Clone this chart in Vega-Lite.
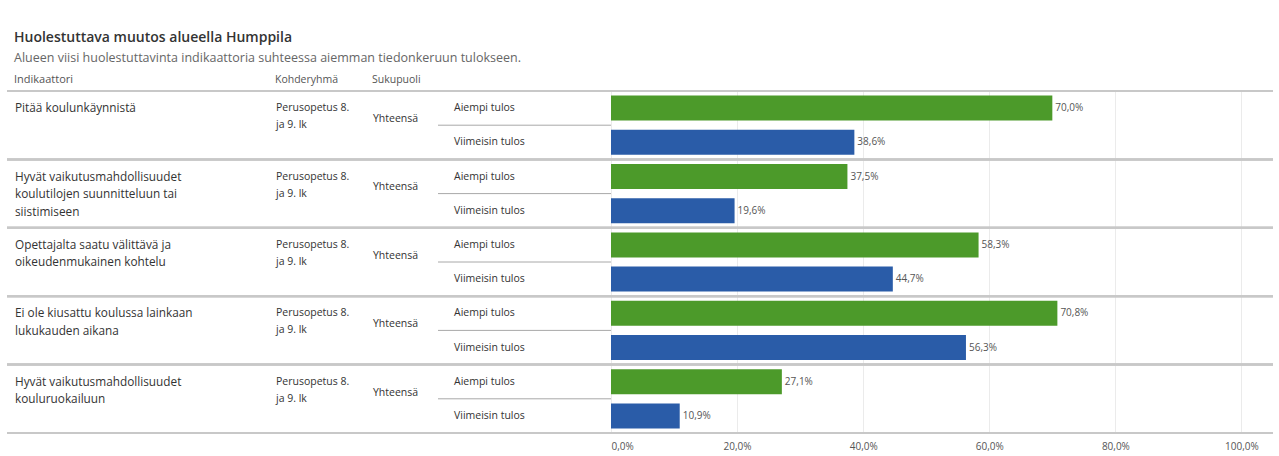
{
  "$schema": "https://vega.github.io/schema/vega-lite/v6.json",
  "padding": {"left": 6, "top": 30, "right": 7, "bottom": 0},
  "background": "white",
  "title": {
    "text": "Huolestuttava muutos alueella Humppila",
    "subtitle": "Alueen viisi huolestuttavinta indikaattoria suhteessa aiemman tiedonkeruun tulokseen.",
    "anchor": "start",
    "dx": 8,
    "font": "Open Sans",
    "fontSize": 14,
    "fontWeight": 600,
    "color": "#333333",
    "subtitleFont": "Open Sans",
    "subtitleFontSize": 12.5,
    "subtitleColor": "#666666",
    "subtitlePadding": 7,
    "offset": 10
  },
  "data": {
    "values": [
      {"n": 1, "ind": "Pitää koulunkäynnistä", "kohde": "Perusopetus 8.\nja 9. lk", "sp": "Yhteensä", "tulos": "Aiempi tulos", "value": 0.700},
      {"n": 1, "ind": "Pitää koulunkäynnistä", "kohde": "Perusopetus 8.\nja 9. lk", "sp": "Yhteensä", "tulos": "Viimeisin tulos", "value": 0.386},
      {"n": 2, "ind": "Hyvät vaikutusmahdollisuudet\nkoulutilojen suunnitteluun tai\nsiistimiseen", "kohde": "Perusopetus 8.\nja 9. lk", "sp": "Yhteensä", "tulos": "Aiempi tulos", "value": 0.375},
      {"n": 2, "ind": "Hyvät vaikutusmahdollisuudet\nkoulutilojen suunnitteluun tai\nsiistimiseen", "kohde": "Perusopetus 8.\nja 9. lk", "sp": "Yhteensä", "tulos": "Viimeisin tulos", "value": 0.196},
      {"n": 3, "ind": "Opettajalta saatu välittävä ja\noikeudenmukainen kohtelu", "kohde": "Perusopetus 8.\nja 9. lk", "sp": "Yhteensä", "tulos": "Aiempi tulos", "value": 0.583},
      {"n": 3, "ind": "Opettajalta saatu välittävä ja\noikeudenmukainen kohtelu", "kohde": "Perusopetus 8.\nja 9. lk", "sp": "Yhteensä", "tulos": "Viimeisin tulos", "value": 0.447},
      {"n": 4, "ind": "Ei ole kiusattu koulussa lainkaan\nlukukauden aikana", "kohde": "Perusopetus 8.\nja 9. lk", "sp": "Yhteensä", "tulos": "Aiempi tulos", "value": 0.708},
      {"n": 4, "ind": "Ei ole kiusattu koulussa lainkaan\nlukukauden aikana", "kohde": "Perusopetus 8.\nja 9. lk", "sp": "Yhteensä", "tulos": "Viimeisin tulos", "value": 0.563},
      {"n": 5, "ind": "Hyvät vaikutusmahdollisuudet\nkouluruokailuun", "kohde": "Perusopetus 8.\nja 9. lk", "sp": "Yhteensä", "tulos": "Aiempi tulos", "value": 0.271},
      {"n": 5, "ind": "Hyvät vaikutusmahdollisuudet\nkouluruokailuun", "kohde": "Perusopetus 8.\nja 9. lk", "sp": "Yhteensä", "tulos": "Viimeisin tulos", "value": 0.109}
    ]
  },
  "spacing": 0,
  "bounds": "flush",
  "config": {
    "locale": {"number": {"decimal": ",", "thousands": "\u00a0", "grouping": [3], "currency": ["", "\u00a0€"]}},
    "view": {"stroke": null},
    "font": "Open Sans"
  },
  "hconcat": [
    {
      "width": 262,
      "height": 342,
      "title": {"text": "Indikaattori", "anchor": "start", "dx": 8, "fontSize": 11, "fontWeight": "normal", "color": "#555555", "offset": 5},
      "layer": [
        {"mark": {"type": "rule", "color": "#c8c8c8", "strokeWidth": 2},
         "encoding": {"y": {"field": "n", "type": "ordinal", "bandPosition": 0, "axis": null, "scale": {"type": "band", "paddingInner": 0, "paddingOuter": 0}}}},
        {"mark": {"type": "rule", "color": "#c8c8c8", "strokeWidth": 2},
         "encoding": {"y": {"field": "n", "type": "ordinal", "bandPosition": 1, "axis": null, "scale": {"type": "band", "paddingInner": 0, "paddingOuter": 0}}}},
        {"transform": [{"filter": "datum.tulos === 'Aiempi tulos'"}],
         "mark": {"type": "text", "align": "left", "baseline": "middle", "dx": 8, "lineBreak": "\n", "lineHeight": 17.5, "fontSize": 11.8, "color": "#333333"},
         "encoding": {
           "x": {"value": 0},
           "y": {"field": "n", "type": "ordinal", "bandPosition": 0.25, "axis": null, "scale": {"type": "band", "paddingInner": 0, "paddingOuter": 0}},
           "text": {"field": "ind"}
         }}
      ]
    },
    {
      "width": 98,
      "height": 342,
      "title": {"text": "Kohderyhmä", "anchor": "start", "dx": 7, "fontSize": 10.5, "fontWeight": "normal", "color": "#555555", "offset": 5},
      "layer": [
        {"mark": {"type": "rule", "color": "#c8c8c8", "strokeWidth": 2},
         "encoding": {"y": {"field": "n", "type": "ordinal", "bandPosition": 0, "axis": null, "scale": {"type": "band", "paddingInner": 0, "paddingOuter": 0}}}},
        {"mark": {"type": "rule", "color": "#c8c8c8", "strokeWidth": 2},
         "encoding": {"y": {"field": "n", "type": "ordinal", "bandPosition": 1, "axis": null, "scale": {"type": "band", "paddingInner": 0, "paddingOuter": 0}}}},
        {"transform": [{"filter": "datum.tulos === 'Aiempi tulos'"}],
         "mark": {"type": "text", "align": "left", "baseline": "middle", "dx": 7, "lineBreak": "\n", "lineHeight": 17, "fontSize": 10.5, "color": "#333333"},
         "encoding": {
           "x": {"value": 0},
           "y": {"field": "n", "type": "ordinal", "bandPosition": 0.25, "axis": null, "scale": {"type": "band", "paddingInner": 0, "paddingOuter": 0}},
           "text": {"field": "kohde"}
         }}
      ]
    },
    {
      "width": 71,
      "height": 342,
      "title": {"text": "Sukupuoli", "anchor": "start", "dx": 6, "fontSize": 10.5, "fontWeight": "normal", "color": "#555555", "offset": 5},
      "layer": [
        {"mark": {"type": "rule", "color": "#c8c8c8", "strokeWidth": 2},
         "encoding": {"y": {"field": "n", "type": "ordinal", "bandPosition": 0, "axis": null, "scale": {"type": "band", "paddingInner": 0, "paddingOuter": 0}}}},
        {"mark": {"type": "rule", "color": "#c8c8c8", "strokeWidth": 2},
         "encoding": {"y": {"field": "n", "type": "ordinal", "bandPosition": 1, "axis": null, "scale": {"type": "band", "paddingInner": 0, "paddingOuter": 0}}}},
        {"transform": [{"filter": "datum.tulos === 'Aiempi tulos'"}],
         "mark": {"type": "text", "align": "left", "baseline": "middle", "dx": 6, "fontSize": 10.5, "color": "#333333"},
         "encoding": {
           "x": {"value": 0},
           "y": {"field": "n", "type": "ordinal", "bandPosition": 0.41, "axis": null, "scale": {"type": "band", "paddingInner": 0, "paddingOuter": 0}},
           "text": {"field": "sp"}
         }}
      ]
    },
    {
      "width": 173,
      "height": 342,
      "layer": [
        {"mark": {"type": "rule", "color": "#c8c8c8", "strokeWidth": 2},
         "encoding": {"y": {"field": "n", "type": "ordinal", "bandPosition": 0, "axis": null, "scale": {"type": "band", "paddingInner": 0, "paddingOuter": 0}}}},
        {"mark": {"type": "rule", "color": "#c8c8c8", "strokeWidth": 2},
         "encoding": {"y": {"field": "n", "type": "ordinal", "bandPosition": 1, "axis": null, "scale": {"type": "band", "paddingInner": 0, "paddingOuter": 0}}}},
        {"transform": [{"filter": "datum.tulos === 'Aiempi tulos'"}],
         "mark": {"type": "rule", "color": "#a8a8a8", "strokeWidth": 1},
         "encoding": {"y": {"field": "n", "type": "ordinal", "bandPosition": 0.5, "axis": null, "scale": {"type": "band", "paddingInner": 0, "paddingOuter": 0}}}},
        {"mark": {"type": "text", "align": "left", "baseline": "middle", "dx": 16, "fontSize": 10.5, "color": "#333333"},
         "encoding": {
           "x": {"value": 0},
           "y": {"field": "n", "type": "ordinal", "axis": null, "scale": {"type": "band", "paddingInner": 0, "paddingOuter": 0}},
           "yOffset": {"field": "tulos", "type": "nominal", "scale": {"domain": ["Aiempi tulos", "Viimeisin tulos"], "paddingInner": 0.27, "paddingOuter": 0.135}},
           "text": {"field": "tulos"}
         }}
      ]
    },
    {
      "width": 662,
      "height": 342,
      "layer": [
        {"mark": {"type": "rule", "color": "#c8c8c8", "strokeWidth": 2},
         "encoding": {"y": {"field": "n", "type": "ordinal", "bandPosition": 0, "axis": null, "scale": {"type": "band", "paddingInner": 0, "paddingOuter": 0}}}},
        {"mark": {"type": "rule", "color": "#c8c8c8", "strokeWidth": 2},
         "encoding": {"y": {"field": "n", "type": "ordinal", "bandPosition": 1, "axis": null, "scale": {"type": "band", "paddingInner": 0, "paddingOuter": 0}}}},
        {"mark": {"type": "bar"},
         "encoding": {
           "x": {"field": "value", "type": "quantitative", "scale": {"domain": [0, 1.05], "nice": false},
                 "axis": {"title": null, "values": [0, 0.2, 0.4, 0.6, 0.8, 1], "format": ".1%", "domain": false, "ticks": false, "labelPadding": 8, "labelFontSize": 10, "labelColor": "#555555", "labelFlush": true, "gridColor": "#ebebeb", "grid": true}},
           "y": {"field": "n", "type": "ordinal", "axis": null, "scale": {"type": "band", "paddingInner": 0, "paddingOuter": 0}},
           "yOffset": {"field": "tulos", "type": "nominal", "scale": {"domain": ["Aiempi tulos", "Viimeisin tulos"], "paddingInner": 0.27, "paddingOuter": 0.135}},
           "color": {"field": "tulos", "type": "nominal", "legend": null, "scale": {"domain": ["Aiempi tulos", "Viimeisin tulos"], "range": ["#4c9a2a", "#2a5ca8"]}}
         }},
        {"mark": {"type": "text", "align": "left", "baseline": "middle", "dx": 3, "fontSize": 10, "color": "#555555"},
         "encoding": {
           "x": {"field": "value", "type": "quantitative", "scale": {"domain": [0, 1.05], "nice": false},
                 "axis": {"title": null, "values": [0, 0.2, 0.4, 0.6, 0.8, 1], "format": ".1%", "domain": false, "ticks": false, "labelPadding": 8, "labelFontSize": 10, "labelColor": "#555555", "labelFlush": true, "gridColor": "#ebebeb", "grid": true}},
           "y": {"field": "n", "type": "ordinal", "axis": null, "scale": {"type": "band", "paddingInner": 0, "paddingOuter": 0}},
           "yOffset": {"field": "tulos", "type": "nominal", "scale": {"domain": ["Aiempi tulos", "Viimeisin tulos"], "paddingInner": 0.27, "paddingOuter": 0.135}},
           "text": {"field": "value", "format": ".1%"}
         }}
      ]
    }
  ]
}
